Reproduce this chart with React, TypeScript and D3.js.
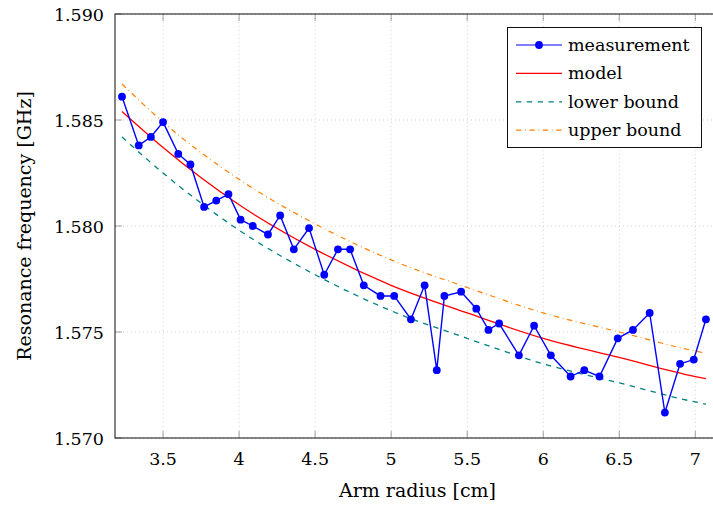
import React, { useEffect, useRef } from 'react';
import * as d3 from 'd3';

const width = 713;
const height = 506;
const plotLeft = 115;
const plotRight = 720; // right frame sits just outside the picture
const plotTop = 14;
const plotBottom = 438;
const FONT = '"DejaVu Serif", serif';

// arm radius [cm] and measured resonance [GHz]
const radius = [3.23, 3.34, 3.42, 3.50, 3.60, 3.68, 3.77, 3.85, 3.93, 4.01, 4.09, 4.19, 4.27, 4.36, 4.46, 4.56, 4.65, 4.73, 4.82, 4.93, 5.02,
    5.13, 5.22, 5.30, 5.35, 5.46, 5.56, 5.64, 5.71, 5.84, 5.94, 6.05, 6.18, 6.27, 6.37, 6.49, 6.59, 6.70, 6.80, 6.90, 6.99, 7.07];
const measured = [1.5861, 1.5838, 1.5842, 1.5849, 1.5834, 1.5829, 1.5809, 1.5812, 1.5815, 1.5803, 1.5800, 1.5796, 1.5805, 1.5789, 1.5799,
    1.5777, 1.5789, 1.5789, 1.5772, 1.5767, 1.5767, 1.5756, 1.5772, 1.5732, 1.5767, 1.5769, 1.5761, 1.5751, 1.5754, 1.5739, 1.5753,
    1.5739, 1.5729, 1.5732, 1.5729, 1.5747, 1.5751, 1.5759, 1.5712, 1.5735, 1.5737, 1.5756];

// model curve and bounds, read at a few radii
const modelRadius = [3.23, 3.5, 4.0, 4.5, 5.0, 5.5, 6.0, 6.5, 7.0, 7.07];
const model = [1.5854, 1.5837, 1.5810, 1.5789, 1.5772, 1.5759, 1.5747, 1.5738, 1.5729, 1.5728];
const upperBound = [1.5867, 1.5849, 1.5822, 1.5801, 1.5784, 1.5771, 1.5759, 1.5750, 1.5741, 1.5740];
const lowerBound = [1.5842, 1.5825, 1.5798, 1.5777, 1.5760, 1.5747, 1.5735, 1.5726, 1.5717, 1.5716];

const xTicks = [3.5, 4, 4.5, 5, 5.5, 6, 6.5, 7];
const yTicks = [1.570, 1.575, 1.580, 1.585, 1.590];

const legendItems = ['measurement', 'model', 'lower bound', 'upper bound'];

const App = () => {
    const ref = useRef(null);

    useEffect(() => {
        const svg = d3.select(ref.current);
        svg.selectAll('*').remove();

        const x = d3.scaleLinear().domain([3.184, 7.1625]).range([plotLeft, plotRight]);
        const y = d3.scaleLinear().domain([1.570, 1.590]).range([plotBottom, plotTop]);

        // dotted grid
        const grid = svg.append('g').attr('stroke', '#c8c8c8').attr('stroke-width', 0.8).attr('stroke-dasharray', '1,3');
        xTicks.forEach(t => {
            grid.append('line').attr('x1', x(t)).attr('x2', x(t)).attr('y1', plotTop).attr('y2', plotBottom);
        });
        yTicks.forEach(t => {
            grid.append('line').attr('x1', plotLeft).attr('x2', plotRight).attr('y1', y(t)).attr('y2', y(t));
        });

        // inward ticks on all four sides
        const ticks = svg.append('g').attr('stroke', '#888').attr('stroke-width', 0.8);
        xTicks.forEach(t => {
            ticks.append('line').attr('x1', x(t)).attr('x2', x(t)).attr('y1', plotBottom).attr('y2', plotBottom - 7);
            ticks.append('line').attr('x1', x(t)).attr('x2', x(t)).attr('y1', plotTop).attr('y2', plotTop + 7);
        });
        yTicks.forEach(t => {
            ticks.append('line').attr('x1', plotLeft).attr('x2', plotLeft + 7).attr('y1', y(t)).attr('y2', y(t));
            ticks.append('line').attr('x1', plotRight).attr('x2', plotRight - 7).attr('y1', y(t)).attr('y2', y(t));
        });

        const line = d3.line<[number, number]>()
            .x(d => x(d[0]))
            .y(d => y(d[1]));
        const smooth = d3.line<[number, number]>()
            .x(d => x(d[0]))
            .y(d => y(d[1]))
            .curve(d3.curveMonotoneX);

        const zip = (xs: number[], ys: number[]) => xs.map((v, i) => [v, ys[i]] as [number, number]);

        svg.append('path').attr('d', smooth(zip(modelRadius, upperBound)))
            .attr('fill', 'none').attr('stroke', '#ff8000').attr('stroke-width', 1.2)
            .attr('stroke-dasharray', '5.4,3.6,0.8,3.6');
        svg.append('path').attr('d', smooth(zip(modelRadius, lowerBound)))
            .attr('fill', 'none').attr('stroke', '#008080').attr('stroke-width', 1.3)
            .attr('stroke-dasharray', '5.4,5.4');
        svg.append('path').attr('d', smooth(zip(modelRadius, model)))
            .attr('fill', 'none').attr('stroke', '#ff0000').attr('stroke-width', 1.3);

        const pts = zip(radius, measured);
        svg.append('path').attr('d', line(pts))
            .attr('fill', 'none').attr('stroke', '#0000ff').attr('stroke-width', 1.4);
        svg.append('g').selectAll('circle')
            .data(pts)
            .enter()
            .append('circle')
            .attr('cx', d => x(d[0]))
            .attr('cy', d => y(d[1]))
            .attr('r', 3.9)
            .attr('fill', '#0000ff');

        // frame
        svg.append('rect')
            .attr('x', plotLeft).attr('y', plotTop)
            .attr('width', plotRight - plotLeft).attr('height', plotBottom - plotTop)
            .attr('fill', 'none').attr('stroke', '#222').attr('stroke-width', 1.1);

        // tick labels
        svg.append('g').selectAll('text')
            .data(xTicks)
            .enter()
            .append('text')
            .attr('x', d => x(d))
            .attr('y', 465)
            .attr('text-anchor', 'middle')
            .style('font-family', FONT)
            .style('font-size', '17.5px')
            .text(d => d3.format('')(d));
        svg.append('g').selectAll('text')
            .data(yTicks)
            .enter()
            .append('text')
            .attr('x', 104)
            .attr('y', d => y(d) + 6.5)
            .attr('text-anchor', 'end')
            .style('font-family', FONT)
            .style('font-size', '17.5px')
            .text(d => d3.format('.3f')(d));

        // axis labels
        svg.append('text')
            .attr('x', (plotLeft + plotRight) / 2)
            .attr('y', 497)
            .attr('text-anchor', 'middle')
            .style('font-family', FONT)
            .style('font-size', '19px')
            .text('Arm radius [cm]');
        svg.append('text')
            .attr('transform', `translate(31,${(plotTop + plotBottom) / 2}) rotate(-90)`)
            .attr('text-anchor', 'middle')
            .style('font-family', FONT)
            .style('font-size', '19px')
            .text('Resonance frequency [GHz]');

        // legend
        const lg = svg.append('g');
        lg.append('rect')
            .attr('x', 507.5).attr('y', 27.5).attr('width', 194).attr('height', 120)
            .attr('fill', 'white').attr('stroke', '#111').attr('stroke-width', 1);
        const rowY = (i: number) => 45 + i * 28.4;
        const styles = [
            { color: '#0000ff', dash: null },
            { color: '#ff0000', dash: null },
            { color: '#008080', dash: '5.4,5.4' },
            { color: '#ff8000', dash: '5.4,3.6,0.8,3.6' },
        ];
        legendItems.forEach((name, i) => {
            lg.append('line')
                .attr('x1', 516).attr('x2', 562).attr('y1', rowY(i)).attr('y2', rowY(i))
                .attr('stroke', styles[i].color).attr('stroke-width', 1.2)
                .attr('stroke-dasharray', styles[i].dash);
            if (i === 0) {
                lg.append('circle').attr('cx', 539).attr('cy', rowY(i)).attr('r', 3.9).attr('fill', '#0000ff');
            }
            lg.append('text')
                .attr('x', 568)
                .attr('y', rowY(i) + 6)
                .style('font-family', FONT)
                .style('font-size', '17.5px')
                .text(name);
        });
    }, []);

    return (
        <svg ref={ref} width={width} height={height}
            style={{ position: 'absolute', left: 0, top: 0, background: 'white' }} />
    );
};

export default App;
